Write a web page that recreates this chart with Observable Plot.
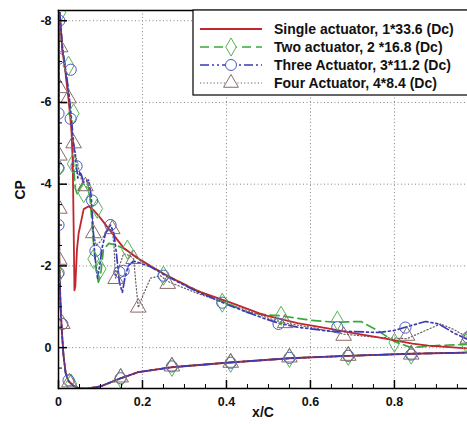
<!DOCTYPE html>
<html><head><meta charset="utf-8">
<script src="https://cdn.jsdelivr.net/npm/d3@7"></script>
<script src="https://cdn.jsdelivr.net/npm/@observablehq/plot@0.6"></script>
<style>
html,body{margin:0;padding:0;background:#fff;}
#chart{width:467px;height:424px;}
svg{font-family:"Liberation Sans",Arial,sans-serif;}
</style></head>
<body><div id="chart"></div>
<script>
// ---- data (x/C, CP) ----
const seriesNames = ["Single actuator, 1*33.6 (Dc)","Two actuator, 2 *16.8 (Dc)","Three Actuator, 3*11.2 (Dc)","Four Actuator, 4*8.4 (Dc)"];

const lowerSurface = [[0.0005,-8.1],[0.0008,-6],[0.001,-4],[0.002,-2],[0.005,-1.0],[0.008,-0.4],[0.012,0.2],[0.017,0.62],[0.024,0.82],[0.035,0.93],[0.05,1.0],[0.07,1.0],[0.1,0.95],[0.148,0.75],[0.19,0.6],[0.27,0.48],[0.4,0.37],[0.55,0.26],[0.69,0.2],[0.84,0.15],[0.975,0.12]];

const upperSingle = [[0.003,-8.2],[0.009,-7.3],[0.017,-6.7],[0.024,-6.07],[0.031,-5.3],[0.034,-4.5],[0.036,-3.0],[0.038,-1.4],[0.040,-1.5],[0.044,-2.4],[0.048,-2.8],[0.06,-3.39],[0.072,-3.46],[0.085,-3.35],[0.1,-3.17],[0.124,-2.85],[0.155,-2.44],[0.187,-2.2],[0.219,-2.0],[0.259,-1.76],[0.33,-1.39],[0.41,-1.1],[0.488,-0.8],[0.569,-0.6],[0.648,-0.46],[0.695,-0.37],[0.762,-0.25],[0.843,-0.1],[0.881,-0.05],[0.975,0.02]];

const upperTwo = [[0.003,-8.2],[0.009,-7.3],[0.017,-6.75],[0.024,-6.2],[0.03,-5.6],[0.034,-4.8],[0.037,-4.3],[0.04,-3.9],[0.045,-3.75],[0.05,-3.9],[0.06,-4.05],[0.068,-4.1],[0.075,-3.7],[0.083,-2.6],[0.09,-1.9],[0.095,-1.6],[0.1,-1.75],[0.107,-2.4],[0.12,-2.55],[0.14,-2.5],[0.16,-2.4],[0.187,-2.2],[0.219,-2.0],[0.259,-1.76],[0.33,-1.4],[0.41,-1.05],[0.45,-0.86],[0.5,-0.8],[0.53,-0.78],[0.6,-0.67],[0.66,-0.62],[0.72,-0.64],[0.76,-0.42],[0.8,-0.15],[0.84,0.0],[0.9,-0.05],[0.975,-0.08]];

const upperThree = [[0.003,-8.2],[0.009,-7.4],[0.017,-6.8],[0.024,-6.3],[0.03,-5.7],[0.036,-5.0],[0.042,-4.5],[0.046,-4.15],[0.052,-4.3],[0.06,-4.05],[0.072,-4.1],[0.078,-3.7],[0.082,-3.0],[0.086,-2.3],[0.093,-1.7],[0.098,-2.0],[0.104,-2.45],[0.112,-2.8],[0.124,-3.0],[0.132,-2.8],[0.138,-2.3],[0.145,-1.6],[0.152,-1.35],[0.158,-1.7],[0.166,-2.0],[0.179,-2.12],[0.219,-1.98],[0.259,-1.74],[0.33,-1.37],[0.41,-1.02],[0.488,-0.72],[0.524,-0.6],[0.569,-0.5],[0.648,-0.4],[0.683,-0.4],[0.762,-0.37],[0.8,-0.42],[0.826,-0.5],[0.874,-0.64],[0.905,-0.58],[0.945,-0.34],[0.975,-0.2]];

const upperFour = [[0.003,-8.2],[0.009,-7.3],[0.017,-6.7],[0.024,-6.1],[0.03,-5.5],[0.036,-5.0],[0.045,-4.5],[0.055,-4.1],[0.064,-3.95],[0.07,-3.9],[0.078,-3.5],[0.083,-2.8],[0.09,-2.5],[0.1,-2.6],[0.115,-2.85],[0.128,-2.9],[0.132,-2.5],[0.136,-1.7],[0.142,-1.9],[0.155,-2.3],[0.17,-2.25],[0.179,-2.17],[0.184,-1.6],[0.19,-0.98],[0.2,-1.25],[0.219,-1.7],[0.243,-1.76],[0.26,-1.62],[0.33,-1.33],[0.41,-1.05],[0.5,-0.72],[0.54,-0.6],[0.6,-0.5],[0.68,-0.33],[0.76,-0.25],[0.83,-0.22],[0.87,-0.4],[0.91,-0.58],[0.94,-0.45],[0.975,-0.25]];

const markersTwo = [[0.004,-8.2],[0.024,-6.9],[0.036,-5.73],[0.0,-4.4],[0.034,-4.5],[0.06,-3.78],[0.092,-3.4],[0.083,-2.17],[0.1,-1.93],[0.0,-1.8],[0.164,-2.4],[0.25,-1.76],[0.39,-1.1],[0.53,-0.78],[0.664,-0.66],[0.8,-0.12],[0.97,-0.12],[0.03,0.88],[0.148,0.75],[0.27,0.47],[0.41,0.37],[0.55,0.25],[0.69,0.2],[0.84,0.17]];
const markersThree = [[0.002,-8.0],[0.0,-7.07],[0.029,-6.8],[0.0,-5.73],[0.029,-5.6],[0.0,-4.39],[0.043,-4.44],[0.08,-3.6],[0.0,-3.0],[0.088,-2.37],[0.124,-3.0],[0.0,-1.83],[0.155,-1.88],[0.145,-1.85],[0.25,-1.76],[0.39,-1.1],[0.524,-0.58],[0.664,-0.5],[0.826,-0.49],[0.975,-0.25],[0.009,-0.58],[0.024,0.8],[0.148,0.75],[0.27,0.46],[0.41,0.37],[0.55,0.25],[0.69,0.2],[0.84,0.17]];
const markersFour = [[0.004,-7.35],[0.003,-6.35],[0.024,-6.1],[0.036,-5.0],[0.002,-4.7],[0.064,-3.95],[0.002,-3.4],[0.083,-2.8],[0.128,-2.9],[0.002,-2.15],[0.136,-1.68],[0.179,-2.17],[0.19,-0.98],[0.26,-1.56],[0.54,-0.6],[0.679,-0.29],[0.83,-0.29],[0.975,-0.22],[0.009,-0.58],[0.026,0.85],[0.148,0.73],[0.27,0.46],[0.41,0.37],[0.55,0.24],[0.69,0.2],[0.84,0.17]];

const xMajor = [0,0.2,0.4,0.6,0.8];
const xMinor = [0.05,0.1,0.15,0.25,0.3,0.35,0.45,0.5,0.55,0.65,0.7,0.75,0.85,0.9,0.95];
const yMajor = [-8,-6,-4,-2,0];
const yMinor = [-7.5,-7,-6.5,-5.5,-5,-4.5,-3.5,-3,-2.5,-1.5,-1,-0.5,0.5];

// ---- styles ----
const colors = ["#c0262c","#3aa83a","#3a3ab8","#6a6060"];
const markerColors = ["#c0262c","#55b455","#4a5cc0","#8a6a6a"];
const dashes = [null,"9,5","9,3,2,3,2,3","1.2,2.2"];
const widths = [1.8,1.7,1.7,1.2];

const toObj = a => a.map(([x,cp])=>({x,cp}));
const uppers = [upperSingle,upperTwo,upperThree,upperFour].map(u=>toObj(u.slice().reverse().concat([lowerSurface[0]])));
const lower = toObj(lowerSurface);
const drawOrder = [3,1,0,2];

const W=467,H=424,mL=58,mR=0,mT=10,mB=36;
const pw=W-mL-mR, ph=H-mT-mB;

const plot = Plot.plot({
  width: W, height: H,
  marginLeft: mL, marginRight: mR, marginTop: mT, marginBottom: mB,
  style: {fontFamily:'"Liberation Sans",Arial,sans-serif', fontSize:"12.5px", fontWeight:"bold", color:"#111", background:"#fff"},
  x: {domain:[0,0.974]},
  y: {domain:[1,-8.25]},
  marks: [
    Plot.gridX(xMajor.slice(1), {stroke:"#888", strokeOpacity:1, strokeDasharray:"1,2.5", strokeWidth:1}),
    Plot.gridY(yMajor, {stroke:"#888", strokeOpacity:1, strokeDasharray:"1,2.5", strokeWidth:1}),
    // lower surface lines
    ...drawOrder.map(i=>Plot.line(lower,{x:"x",y:"cp",stroke:colors[i],strokeWidth:widths[i],strokeDasharray:dashes[i],clip:true})),
    // upper surface lines
    ...drawOrder.map(i=>Plot.line(uppers[i],{x:"x",y:"cp",stroke:colors[i],strokeWidth:widths[i],strokeDasharray:dashes[i],clip:true})),
    // markers
    Plot.dot(toObj(markersTwo),{x:"x",y:"cp",symbol:"diamond",r:5.8,stroke:markerColors[1],strokeWidth:1,fill:"none",clip:true}),
    Plot.dot(toObj(markersThree),{x:"x",y:"cp",symbol:"circle",r:5.6,stroke:markerColors[2],strokeWidth:1,fill:"none",clip:true}),
    Plot.dot(toObj(markersFour),{x:"x",y:"cp",symbol:"triangle",r:5.8,stroke:markerColors[3],strokeWidth:1,fill:"none",clip:true}),
    // inward ticks
    Plot.tickX(xMajor,{x:d=>d, insetTop:ph-8, stroke:"#000", strokeWidth:1.5}),
    Plot.tickX(xMinor,{x:d=>d, insetTop:ph-4, stroke:"#000", strokeWidth:1}),
    Plot.tickY(yMajor,{y:d=>d, insetRight:pw-9, stroke:"#000", strokeWidth:1.5}),
    Plot.tickY(yMinor,{y:d=>d, insetRight:pw-4, stroke:"#000", strokeWidth:1}),
    // frame
    Plot.frame({stroke:"#000", strokeWidth:1.5, anchor:"left"}),
    Plot.frame({stroke:"#000", strokeWidth:1.5, anchor:"top"}),
    Plot.frame({stroke:"#000", strokeWidth:1.5, anchor:"bottom"}),
    // axes
    Plot.axisX(xMajor,{tickSize:0, tickPadding:9, tickFormat:d=>d===0?"0":String(d), label:null, fontWeight:"bold", fontSize:12.5}),
    Plot.axisY(yMajor,{tickSize:0, tickPadding:7, tickFormat:d=>String(d), label:null, fontWeight:"bold", fontSize:12.5}),
    Plot.text(["x/C"],{frameAnchor:"bottom", dy:28, text:d=>d, fontWeight:"bold", fontSize:14}),
    Plot.text(["CP"],{frameAnchor:"left", dx:-38, rotate:-90, text:d=>d, fontWeight:"bold", fontSize:14})
  ]
});
document.getElementById("chart").appendChild(plot);

// ---- legend (inside plot, top right) ----
const svg = d3.select(plot);
const lg = svg.append("g").attr("text-anchor","start");
lg.append("rect").attr("x",193).attr("y",10).attr("width",280).attr("height",85)
  .attr("fill","#fff").attr("stroke","#000").attr("stroke-width",1.2);
const rows=[29,47,65,83];
const symbols=[null, d3.symbolDiamond, d3.symbolCircle, d3.symbolTriangle];
seriesNames.forEach((name,i)=>{
  const y=rows[i];
  lg.append("line").attr("x1",200).attr("x2",262).attr("y1",y).attr("y2",y)
    .attr("stroke",colors[i]).attr("stroke-width",widths[i]).attr("stroke-dasharray",dashes[i]);
  if(symbols[i]){
    const a = Math.PI*5.5*5.5;
    lg.append("path").attr("d",d3.symbol(symbols[i],a)()).attr("transform",`translate(231,${y})`)
      .attr("fill","#fff").attr("stroke",markerColors[i]).attr("stroke-width",1);
  }
  lg.append("text").attr("x",274).attr("y",y).attr("dy","0.36em").attr("text-anchor","start")
    .attr("font-weight","bold").attr("font-size",14).attr("fill","#111").text(name);
});
</script></body></html>
